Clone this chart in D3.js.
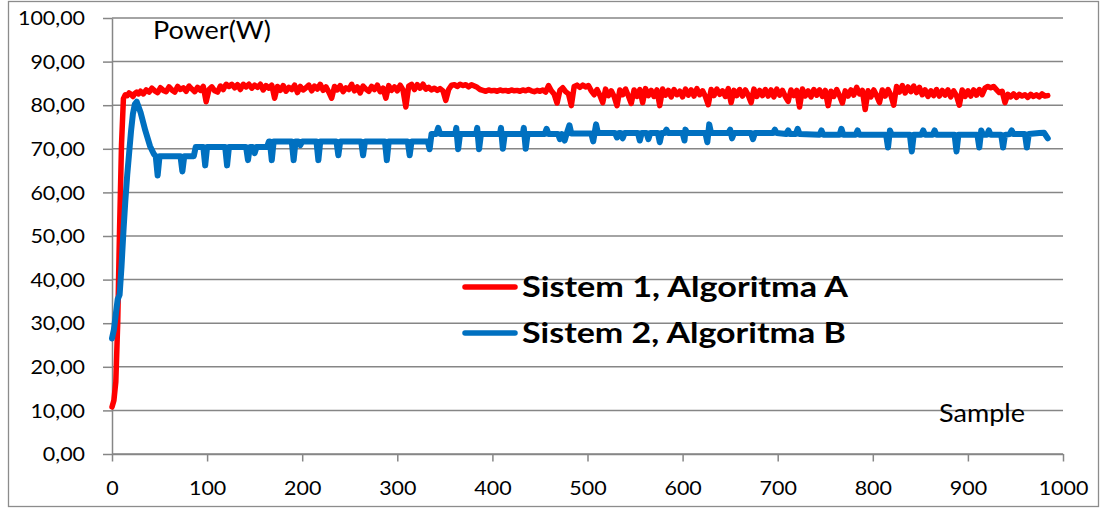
<!DOCTYPE html>
<html>
<head>
<meta charset="utf-8">
<script src="https://cdn.jsdelivr.net/npm/d3@7"></script>
<style>
  html, body { margin: 0; padding: 0; background: #fff; }
  svg { display: block; }
  text { font-family: Lato, "Open Sans", sans-serif; fill: #000; }
</style>
</head>
<body>
<svg id="chart" width="1105" height="509"></svg>
<script>
// Sistem 1 is logged densely: every 2 samples during start-up, then every 3 samples.
const sistem1Samples = d3.range(0, 29, 2).concat(d3.range(30, 985, 3));

// Power (W), Sistem 1 with Algoritma A
const sistem1 = [
  10.8, 12.3, 16.5, 30.0, 52.0, 71.0, 81.5, 82.4, 82.2, 82.8, 82.5, 82.0, 82.7, 83.0, 82.6,
  83.2, 82.6, 83.5, 83.0, 83.9, 83.3, 82.9, 84.0, 83.4, 83.1,
  84.2, 83.5, 83.0, 84.3, 83.6, 84.0, 83.2, 84.4, 83.7, 83.1,
  84.1, 83.4, 84.3, 80.8, 83.6, 84.2, 83.3, 83.0, 84.4, 83.6,
  84.8, 84.3, 84.8, 84.0, 84.7, 83.6, 84.8, 84.2, 84.8, 83.9,
  84.6, 84.1, 84.8, 83.5, 84.5, 83.9, 84.6, 81.6, 84.3, 83.4,
  84.5, 83.2, 84.1, 83.6, 84.6, 82.9, 84.3, 83.5, 84.0, 84.6,
  83.3, 84.4, 83.7, 84.8, 83.4, 84.2, 83.0, 81.6, 84.3, 83.5,
  84.5, 83.1, 84.0, 83.6, 84.8, 83.3, 84.2, 82.8, 84.4, 83.7,
  83.2, 84.3, 83.6, 84.6, 83.1, 83.9, 81.6, 84.5, 83.4, 84.2,
  83.3, 84.6, 83.5, 79.6, 84.4, 84.8, 83.6, 84.7, 83.9, 84.8,
  83.7, 84.1, 83.5, 83.9, 83.4, 83.8, 83.3, 81.1, 83.6, 84.6,
  84.7, 84.3, 84.8, 84.5, 84.7, 84.2, 84.7, 84.4, 84.1, 83.6,
  83.4, 83.2, 83.5, 83.3, 83.4, 83.2, 83.5, 83.3, 83.4, 83.2,
  83.5, 83.3, 83.4, 83.2, 83.5, 83.3, 83.6, 83.3, 83.1, 83.4,
  83.2, 83.5, 83.0, 84.5, 83.3, 82.5, 80.5, 83.4, 84.0, 83.1,
  82.6, 79.9, 84.3, 84.6, 84.1, 84.6, 84.2, 84.5, 83.3, 82.4,
  83.6, 82.3, 80.6, 83.7, 82.2, 83.3, 82.0, 79.9, 83.5, 82.4,
  83.7, 82.1, 80.4, 83.5, 82.0, 83.6, 80.6, 83.8, 82.2, 83.4,
  82.0, 83.5, 79.9, 83.7, 82.3, 83.4, 81.9, 83.6, 82.4, 83.2,
  81.9, 83.7, 82.3, 83.5, 82.1, 83.8, 82.4, 83.3, 82.0, 80.1,
  83.6, 82.2, 83.7, 82.5, 83.3, 82.0, 83.8, 80.6, 83.4, 82.2,
  83.6, 82.1, 83.5, 82.3, 80.6, 83.7, 82.0, 83.4, 82.2, 83.6,
  82.1, 83.5, 81.9, 83.7, 82.3, 83.4, 82.0, 80.9, 83.5, 82.2,
  83.4, 79.6, 83.7, 82.1, 83.3, 81.9, 83.6, 82.3, 83.5, 82.0,
  83.4, 79.9, 83.2, 82.0, 83.6, 82.2, 80.5, 83.3, 82.1, 83.5,
  82.3, 84.1, 82.6, 83.4, 79.0, 83.3, 81.9, 83.5, 82.2, 80.6,
  83.5, 82.1, 83.6, 82.3, 80.0, 84.3, 83.0, 84.5, 82.8, 84.2,
  83.1, 84.4, 82.9, 84.1, 82.4, 83.5, 82.0, 83.3, 82.2, 83.6,
  82.1, 83.4, 82.3, 83.5, 81.9, 83.3, 82.2, 80.0, 83.5, 82.0,
  83.3, 82.1, 83.5, 82.3, 83.6, 82.4, 83.9, 84.3, 84.0, 84.3,
  83.6, 82.9, 83.2, 80.6, 82.5, 81.9, 82.6, 81.8, 82.5, 82.1,
  82.4, 81.8, 82.5, 82.0, 82.4, 81.9, 82.6, 82.1, 82.2
];

// Power (W), Sistem 2 with Algoritma B, as [sample, watts] at each change of level
const sistem2 = [
  [0, 26.5], [2, 28.5], [4, 32.0], [6, 35.5], [8, 36.5], [10, 43.0], [12, 51.0], [14, 58.0],
  [16, 64.0], [18, 69.0], [20, 74.0], [22, 78.0], [24, 80.2], [26, 80.8], [28, 79.6], [30, 78.4],
  [35, 74.2], [40, 70.6], [44, 68.8], [46, 68.3], [48, 63.9], [50, 68.3],
  [72, 68.3], [74, 64.8], [76, 68.3], [86, 68.3], [88, 70.4], [96, 70.4], [98, 66.2], [100, 70.4],
  [119, 70.4], [121, 66.2], [123, 70.4], [141, 70.4], [143, 67.4], [145, 70.4],
  [148, 70.4], [150, 69.0], [152, 70.4],
  [163, 70.4], [165, 71.7], [166, 71.7], [168, 67.4], [170, 71.7],
  [189, 71.7], [191, 67.4], [193, 71.7], [196, 71.7], [198, 70.8], [200, 71.7],
  [215, 71.7], [217, 67.4], [219, 71.7], [236, 71.7], [238, 68.5], [240, 71.7],
  [262, 71.7], [264, 68.5], [266, 71.7], [287, 71.7], [289, 67.4], [291, 71.7],
  [311, 71.7], [313, 68.5], [315, 71.7], [332, 71.7], [334, 69.9], [336, 73.4],
  [341, 73.4], [343, 74.8], [345, 73.4], [361, 73.4], [362, 74.8], [364, 69.9], [366, 73.4],
  [383, 73.4], [384, 74.8], [386, 69.9], [388, 73.4],
  [408, 73.4], [409, 74.8], [411, 70.0], [413, 73.4],
  [432, 73.4], [433, 74.8], [435, 70.0], [437, 73.4], [455, 73.4], [457, 74.6], [459, 73.4],
  [469, 73.4], [471, 72.2], [473, 73.4], [476, 71.9], [478, 73.4], [481, 75.4], [483, 73.5],
  [504, 73.5], [506, 71.7], [509, 75.6], [511, 73.6],
  [529, 73.6], [531, 72.6], [533, 73.6], [535, 73.6], [537, 72.4], [539, 73.6],
  [553, 73.6], [555, 71.9], [557, 73.6], [562, 73.6], [564, 72.2], [566, 73.6],
  [574, 73.6], [576, 71.5], [578, 73.6], [581, 73.6], [583, 74.4], [585, 73.6],
  [600, 73.6], [602, 71.9], [603, 74.4], [605, 73.6],
  [624, 73.6], [626, 71.5], [628, 75.6], [630, 73.6],
  [648, 73.6], [650, 74.4], [652, 72.4], [654, 73.6],
  [672, 73.6], [674, 72.2], [676, 73.6], [695, 73.6], [697, 74.4], [699, 73.6],
  [709, 73.4], [711, 74.2], [713, 73.4], [719, 73.4], [721, 74.6], [723, 73.4],
  [744, 73.2], [746, 74.2], [748, 73.2], [765, 73.2], [767, 74.6], [769, 73.2],
  [782, 73.2], [784, 74.2], [786, 73.2],
  [814, 73.2], [816, 70.3], [818, 74.2], [820, 73.2],
  [839, 73.2], [841, 69.4], [843, 73.2], [851, 73.2], [853, 74.2], [855, 73.2],
  [863, 73.2], [865, 74.2], [867, 73.2], [886, 73.2], [888, 69.4], [890, 73.2],
  [910, 73.2], [912, 70.3], [914, 74.2], [916, 73.2], [920, 73.2], [922, 74.2], [924, 73.2],
  [935, 73.2], [937, 70.3], [939, 73.2], [944, 73.4], [946, 74.2], [948, 73.4],
  [960, 73.4], [962, 70.3], [964, 73.4], [975, 73.6], [980, 73.7], [984, 72.4]
];

const seriesNames = ["Sistem 1, Algoritma A", "Sistem 2, Algoritma B"];
const seriesColors = ["#FF0000", "#0070C0"];

const yTicks = [0, 10, 20, 30, 40, 50, 60, 70, 80, 90, 100];
const yTickLabels = ["0,00", "10,00", "20,00", "30,00", "40,00", "50,00", "60,00", "70,00", "80,00", "90,00", "100,00"];
const xTicks = [0, 100, 200, 300, 400, 500, 600, 700, 800, 900, 1000];
const xTickLabels = ["0", "100", "200", "300", "400", "500", "600", "700", "800", "900", "1000"];

const yTitle = "Power(W)";
const xTitle = "Sample";

// ---- layout ----
const plot = { left: 112, right: 1063, top: 18, bottom: 454 };
const gridColor = "#868686";
const textStretch = 1.16;   // horizontal stretch of the tick lettering

const svg = d3.select("#chart");

const x = d3.scaleLinear().domain([0, 1000]).range([plot.left, plot.right]);
const y = d3.scaleLinear().domain([0, 100]).range([plot.bottom, plot.top]);

// outer chart frame
svg.append("rect")
  .attr("x", 8.5).attr("y", 1.5)
  .attr("width", 1090).attr("height", 505)
  .attr("fill", "none")
  .attr("stroke", "#8c8c8c")
  .attr("stroke-width", 1.3);

// horizontal gridlines
svg.append("g")
  .selectAll("line")
  .data(yTicks)
  .join("line")
  .attr("x1", plot.left).attr("x2", plot.right)
  .attr("y1", d => y(d)).attr("y2", d => y(d))
  .attr("stroke", gridColor)
  .attr("stroke-width", 1.5);

// y axis
const yAxis = svg.append("g")
  .attr("transform", `translate(${plot.left},0)`)
  .call(d3.axisLeft(y)
    .tickValues(yTicks)
    .tickSize(9)
    .tickSizeOuter(0)
    .tickFormat(d => yTickLabels[yTicks.indexOf(d)]))
  .attr("font-family", null)
  .attr("font-size", null);
yAxis.select(".domain").attr("stroke", gridColor).attr("stroke-width", 1.5);
yAxis.selectAll(".tick line").attr("stroke", gridColor).attr("stroke-width", 1.5);
yAxis.selectAll(".tick text")
  .attr("x", null)
  .attr("dy", "0.36em")
  .attr("transform", `translate(-27,0) scale(${textStretch},1)`)
  .attr("text-anchor", "end")
  .style("font-size", "18.5px")
  .style("fill", "#000");

// x axis
const xAxis = svg.append("g")
  .attr("transform", `translate(0,${plot.bottom})`)
  .call(d3.axisBottom(x)
    .tickValues(xTicks)
    .tickSize(7.5)
    .tickSizeOuter(0)
    .tickFormat(d => xTickLabels[xTicks.indexOf(d)]))
  .attr("font-family", null)
  .attr("font-size", null);
xAxis.select(".domain").attr("stroke", gridColor).attr("stroke-width", 1.5);
xAxis.selectAll(".tick line").attr("stroke", gridColor).attr("stroke-width", 1.5);
xAxis.selectAll(".tick text")
  .attr("y", null)
  .attr("dy", null)
  .attr("transform", `translate(0,41) scale(${textStretch},1)`)
  .attr("text-anchor", "middle")
  .style("font-size", "18.5px")
  .style("fill", "#000");

// series lines
const line1 = d3.line()
  .x((d, i) => x(sistem1Samples[i]))
  .y(d => y(d));
const line2 = d3.line()
  .x(d => x(d[0]))
  .y(d => y(d[1]));

svg.append("path")
  .datum(sistem1)
  .attr("d", line1)
  .attr("fill", "none")
  .attr("stroke", seriesColors[0])
  .attr("stroke-width", 5.5)
  .attr("stroke-linejoin", "round")
  .attr("stroke-linecap", "round");

svg.append("path")
  .datum(sistem2)
  .attr("d", line2)
  .attr("fill", "none")
  .attr("stroke", seriesColors[1])
  .attr("stroke-width", 6)
  .attr("stroke-linejoin", "round")
  .attr("stroke-linecap", "round");

// axis titles inside the plot
svg.append("text")
  .attr("x", 153).attr("y", 39)
  .attr("textLength", 118)
  .attr("lengthAdjust", "spacingAndGlyphs")
  .style("font-size", "24.5px")
  .text(yTitle);

svg.append("text")
  .attr("x", 939).attr("y", 422)
  .attr("textLength", 86)
  .attr("lengthAdjust", "spacingAndGlyphs")
  .style("font-size", "25.5px")
  .text(xTitle);

// legend
const legend = svg.append("g");
seriesNames.forEach((name, k) => {
  const ly = 287 + k * 46;
  legend.append("line")
    .attr("x1", 465).attr("x2", 515)
    .attr("y1", ly).attr("y2", ly)
    .attr("stroke", seriesColors[k])
    .attr("stroke-width", 5.5)
    .attr("stroke-linecap", "round");
  legend.append("text")
    .attr("x", 522).attr("y", ly + 10)
    .attr("textLength", k === 0 ? 326 : 324)
    .attr("lengthAdjust", "spacingAndGlyphs")
    .style("font-size", "28px")
    .style("font-weight", "bold")
    .text(name);
});
</script>
</body>
</html>
